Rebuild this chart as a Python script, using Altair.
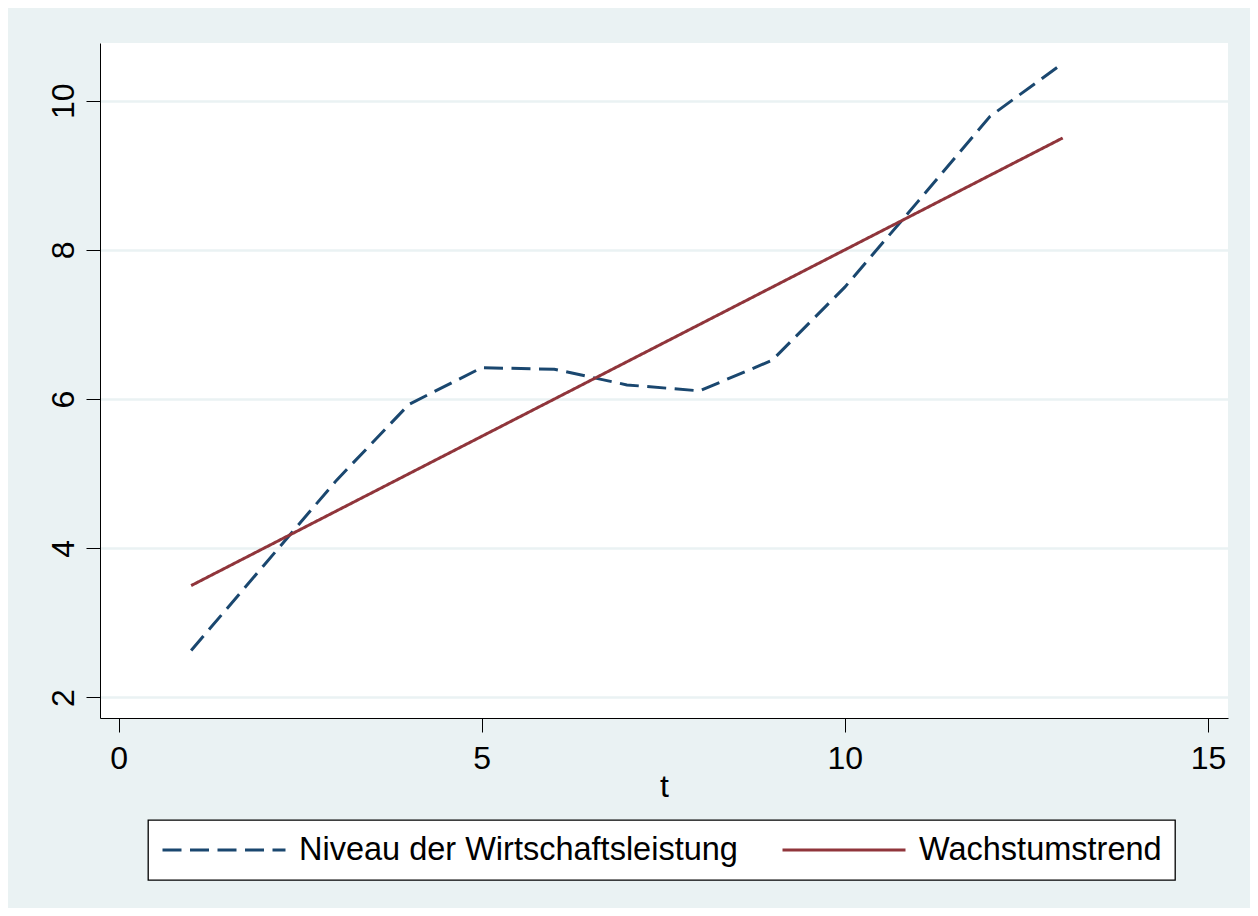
import altair as alt
import pandas as pd

# data
t_values = [1, 2, 3, 4, 5, 6, 7, 8, 9, 10, 11, 12, 13]
niveau = [2.63, 3.77, 4.91, 5.93, 6.42, 6.40, 6.19, 6.11, 6.52, 7.50, 8.64, 9.79, 10.50]
trend = [3.5, 4.0, 4.5, 5.0, 5.5, 6.0, 6.5, 7.0, 7.5, 8.0, 8.5, 9.0, 9.5]
series_names = ["Niveau der Wirtschaftsleistung", "Wachstumstrend"]
x_ticks = [0, 5, 10, 15]
y_ticks = [2, 4, 6, 8, 10]

rows = []
for t, v in zip(t_values, niveau):
    rows.append({"t": t, "value": v, "series": series_names[0]})
for t, v in zip(t_values, trend):
    rows.append({"t": t, "value": v, "series": series_names[1]})
df = pd.DataFrame(rows)

FONT = "Liberation Sans"

chart = (
    alt.Chart(df)
    .mark_line(strokeWidth=3)
    .encode(
        x=alt.X(
            "t:Q",
            scale=alt.Scale(domain=[-0.255, 15.276], nice=False, zero=False),
            axis=alt.Axis(
                values=x_ticks,
                grid=False,
                title="t",
                titleY=78,
                titleBaseline="alphabetic",
                labelPadding=11,
                labelFlush=False,
            ),
        ),
        y=alt.Y(
            "value:Q",
            scale=alt.Scale(domain=[1.725, 10.773], nice=False, zero=False),
            axis=alt.Axis(
                values=y_ticks,
                grid=True,
                gridColor="#EAF2F3",
                gridWidth=2.5,
                title=None,
                labelAngle=270,
                labelAlign="center",
                labelBaseline="alphabetic",
                labelPadding=13,
                labelFlush=False,
            ),
        ),
        color=alt.Color(
            "series:N",
            scale=alt.Scale(domain=series_names, range=["#1A476F", "#90353B"]),
            legend=alt.Legend(title=None),
        ),
        strokeDash=alt.StrokeDash(
            "series:N",
            scale=alt.Scale(domain=series_names, range=[[19, 8.5], [1, 0]]),
            legend=alt.Legend(title=None),
        ),
    )
    .properties(
        width=1128,
        height=675,
        autosize=alt.AutoSizeParams(type="none"),
        padding={"left": 92, "top": 35, "right": 22, "bottom": 190},
        background="#EAF2F3",
    )
    .configure_view(fill="white", strokeWidth=0)
    .configure_axis(
        domainColor="black",
        domainWidth=1,
        tickColor="black",
        tickWidth=1,
        tickSize=14,
        labelFont=FONT,
        labelFontSize=32,
        labelColor="black",
        titleFont=FONT,
        titleFontSize=32,
        titleColor="black",
        titleFontWeight="normal",
    )
    .configure_legend(
        orient="none",
        legendX=48,
        legendY=777,
        direction="horizontal",
        columns=2,
        columnPadding=43,
        padding=13,
        fillColor="white",
        strokeColor="black",
        strokeWidth=1.3,
        cornerRadius=0,
        symbolType="stroke",
        symbolSize=15129,
        symbolStrokeWidth=3,
        clipHeight=34,
        labelOffset=12,
        labelLimit=1000,
        labelFont=FONT,
        labelFontSize=32.5,
        labelColor="black",
    )
)

chart.save("out.html", embed_options={"renderer": "svg", "actions": False})
